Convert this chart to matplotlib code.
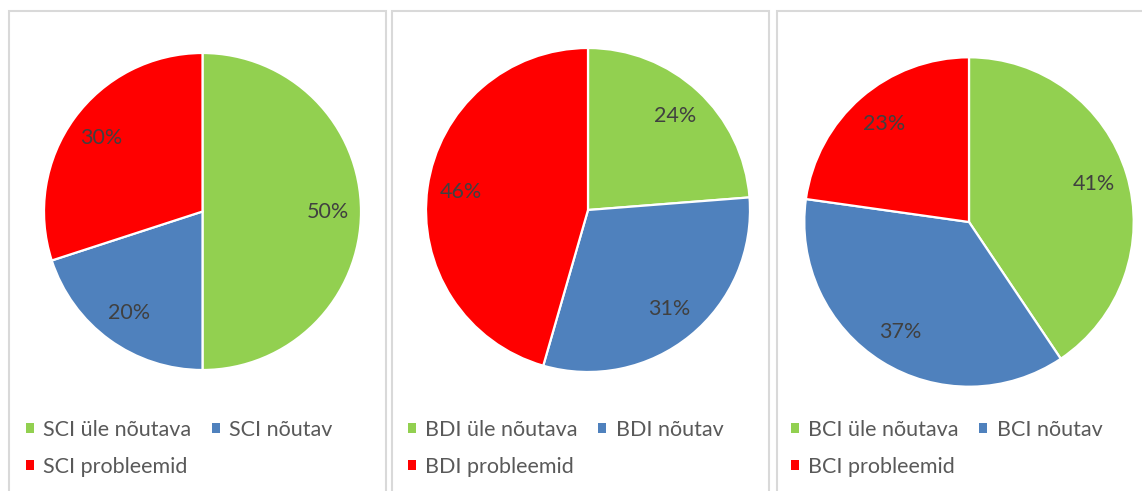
import matplotlib.pyplot as plt
from matplotlib.patches import Patch, Rectangle

plt.rcParams['font.family'] = ['Lato', 'DejaVu Sans']

W, H = 1142, 491

# data
indices = ['SCI', 'BDI', 'BCI']
categories = ['üle nõutava', 'nõutav', 'probleemid']
sci_values = [50, 20, 30]
bdi_values = [24, 31, 46]
bci_values = [41, 37, 23]
colors = ['#92D050', '#4F81BD', '#FF0000']

# layout in pixels: frame left/right, pie centre, radius, legend left
frames = [(9, 386), (392, 769), (777, 1154)]
centers = [(202.5, 211.5), (588, 210), (969, 222)]
radii = [158.5, 162, 164.7]
legend_x = [26, 408, 791]
legend_top = 420

fig = plt.figure(figsize=(W / 100, H / 100), dpi=100)
fig.patch.set_facecolor('white')

for i, values in enumerate([sci_values, bdi_values, bci_values]):
    # panel frame
    x0, x1 = frames[i]
    fig.patches.append(Rectangle((x0 / W, -0.1), (x1 - x0) / W, 1.1 - 11 / H,
                                 transform=fig.transFigure, fill=False,
                                 edgecolor='#d9d9d9', linewidth=1.5))

    cx, cy = centers[i]
    r = radii[i]
    ax = fig.add_axes([(cx - r) / W, 1 - (cy + r) / H, 2 * r / W, 2 * r / H])
    wedges, texts, autotexts = ax.pie(
        values, colors=colors, startangle=90, counterclock=False,
        autopct='%.0f%%', pctdistance=0.79,
        wedgeprops=dict(edgecolor='white', linewidth=1.6),
        textprops=dict(color='#404040', fontsize=15.5))
    ax.set_xlim(-1, 1)
    ax.set_ylim(-1, 1)
    ax.set_aspect('equal')
    ax.axis('off')

    # legend filled row by row: two entries on the first line, one below
    handles = [Patch(facecolor=c, edgecolor='none') for c in colors]
    labels = [f'{indices[i]} {c}' for c in categories]
    order = [0, 2, 1]
    fig.legend([handles[k] for k in order], [labels[k] for k in order],
               loc='upper left',
               bbox_to_anchor=(legend_x[i] / W, 1 - legend_top / H),
               ncol=2, frameon=False, fontsize=15.5, labelcolor='#595959',
               handlelength=0.36, handleheight=0.36, handletextpad=0.45,
               columnspacing=0.95, labelspacing=0.78, borderpad=0,
               borderaxespad=0)

fig.savefig('out.png', dpi=100)
